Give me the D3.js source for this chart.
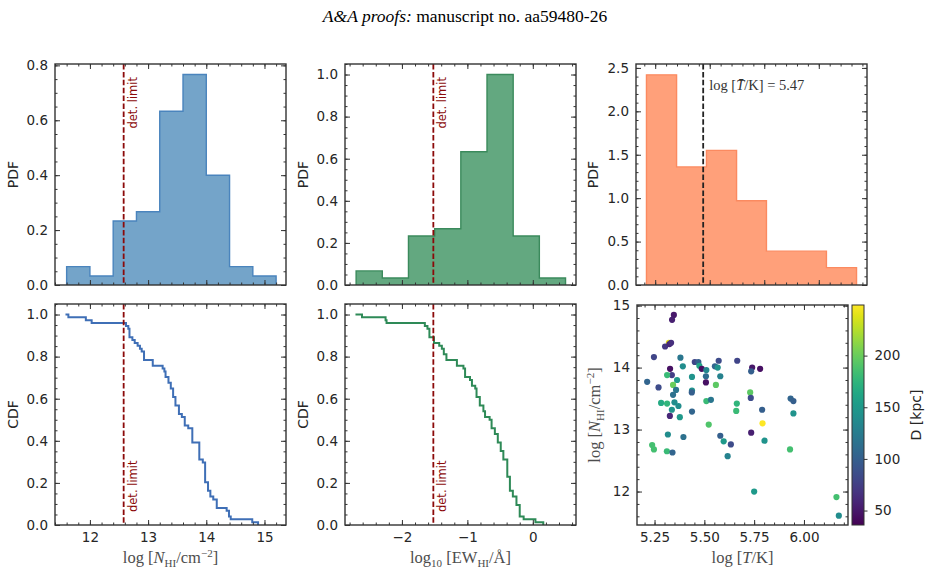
<!DOCTYPE html>
<html>
<head>
<meta charset="utf-8">
<script src="https://cdn.jsdelivr.net/npm/d3@7/dist/d3.min.js"></script>
<style>
body { margin: 0; background: #fff; }
svg { display: block; }
</style>
</head>
<body>
<svg width="929" height="577"></svg>
<script>
// ---- values ----

// histogram of log N_HI (density), bin edges
var binsN = [11.6, 12.0, 12.4, 12.8, 13.2, 13.6, 14.0, 14.4, 14.8, 15.2];
var pdfN = [0.067, 0.033, 0.233, 0.267, 0.633, 0.767, 0.400, 0.067, 0.033];

// histogram of log10 EW_HI
var binsEW = [-2.7, -2.3, -1.9, -1.5, -1.1, -0.7, -0.3, 0.1, 0.5];
var pdfEW = [0.067, 0.033, 0.233, 0.267, 0.633, 1.000, 0.233, 0.033];

// histogram of log T
var binsT = [5.210, 5.348, 5.485, 5.623, 5.760, 5.898, 6.035, 6.173];
var pdfT = [2.42, 1.36, 1.55, 0.97, 0.39, 0.39, 0.20];

// sorted samples behind the CDF step lines
var cdfN = [11.58, 11.63, 11.93, 12.03, 12.62, 12.66, 12.68, 12.68, 12.68, 12.73,
    12.77, 12.82, 12.86, 12.89, 12.93, 12.93, 12.93, 13.08, 13.08, 13.25,
    13.28, 13.30, 13.30, 13.35, 13.35, 13.39, 13.39, 13.43, 13.43, 13.43,
    13.47, 13.47, 13.47, 13.53, 13.53, 13.53, 13.58, 13.63, 13.63, 13.63,
    13.69, 13.76, 13.76, 13.76, 13.76, 13.76, 13.88, 13.88, 13.88, 13.88,
    13.88, 13.88, 13.94, 13.98, 13.98, 13.98, 13.98, 13.98, 13.98, 13.98,
    14.03, 14.03, 14.03, 14.07, 14.07, 14.12, 14.18, 14.18, 14.18, 14.35,
    14.39, 14.39, 14.42, 14.79, 14.89];
var cdfEW = [-2.71, -2.61, -2.25, -2.235, -1.65, -1.61, -1.58, -1.58, -1.58, -1.51,
    -1.51, -1.43, -1.39, -1.36, -1.36, -1.32, -1.32, -1.16, -1.16, -1.06,
    -1.035, -1.035, -1.035, -0.96, -0.93, -0.93, -0.88, -0.86, -0.86, -0.86,
    -0.81, -0.81, -0.81, -0.755, -0.755, -0.73, -0.73, -0.66, -0.63, -0.63,
    -0.63, -0.58, -0.58, -0.535, -0.535, -0.535, -0.49, -0.49, -0.49, -0.45,
    -0.45, -0.45, -0.39, -0.39, -0.39, -0.39, -0.39, -0.39, -0.35, -0.35,
    -0.35, -0.35, -0.35, -0.305, -0.305, -0.25, -0.25, -0.25, -0.20, -0.20,
    -0.20, -0.20, -0.14, 0.04, 0.16];

// detection limits and mean temperature
var detN = 12.58;
var detEW = -1.52;
var meanT = 5.47;

// scatter: log T, log N_HI, distance D [kpc]
var scT = [5.322, 5.347, 5.338, 5.303, 5.325, 5.333, 5.247, 5.380, 5.392, 5.328,
    5.337, 5.313, 5.213, 5.270, 5.363, 5.343, 5.358, 5.343, 5.283, 5.313,
    5.350, 5.370, 5.337, 5.327, 5.377, 5.317, 5.395, 5.238, 5.247, 5.312,
    5.340, 5.438, 5.438, 5.437, 5.452, 5.470, 5.475, 5.487, 5.438, 5.510,
    5.508, 5.508, 5.553, 5.567, 5.572, 5.580, 5.558, 5.510, 5.533, 5.522,
    5.580, 5.597, 5.633, 5.617, 5.665, 5.663, 5.660, 5.740, 5.780, 5.735,
    5.730, 5.733, 5.735, 5.790, 5.792, 5.802, 5.750, 5.930, 5.933, 5.947,
    5.947, 6.163, 6.175];
var scN = [14.40, 14.85, 14.77, 14.34, 14.38, 14.40, 14.17, 14.16, 14.02, 13.98,
    13.88, 13.88, 13.77, 13.68, 13.80, 13.72, 13.64, 13.56, 13.43, 13.42,
    13.44, 13.38, 13.32, 13.22, 13.20, 12.92, 12.88, 12.75, 12.68, 12.65,
    12.63, 13.85, 13.63, 13.60, 14.09, 14.09, 14.03, 13.98, 13.29, 13.96,
    13.86, 13.76, 14.02, 14.00, 14.11, 13.86, 13.72, 13.46, 13.48, 13.08,
    12.90, 12.81, 12.76, 12.57, 14.11, 13.42, 13.30, 14.00, 13.98, 13.94,
    13.60, 13.51, 12.95, 13.32, 13.10, 12.82, 12.00, 12.68, 13.50, 13.46,
    13.26, 11.91, 11.61];
var scD = [240, 50, 55, 70, 60, 65, 80, 120, 140, 45,
    75, 180, 105, 85, 150, 200, 120, 115, 165, 175,
    140, 140, 145, 60, 150, 140, 115, 185, 185, 180,
    105, 145, 145, 100, 80, 100, 160, 45, 105, 135,
    110, 45, 105, 145, 85, 130, 195, 180, 120, 190,
    100, 150, 85, 130, 80, 175, 180, 50, 45, 100,
    195, 85, 55, 100, 249, 145, 150, 185, 105, 100,
    145, 185, 140];

// colour range of the colour bar
var dRange = [36, 249];

// ---- layout ----
var svg = d3.select('svg');
var sans = 'DejaVu Sans, sans-serif';
var serif = 'Liberation Serif, Times New Roman, serif';
var inkColor = '#262626';
var labelColor = '#4d4d4d';
var detColor = '#8b0a0a';

// boxes as [left, top, right, bottom]
var boxPdfN = [55, 64, 286, 285];
var boxPdfEW = [345, 64, 576, 285];
var boxPdfT = [636, 64, 867, 285];
var boxCdfN = [55, 304, 286, 525];
var boxCdfEW = [345, 304, 576, 525];
var boxScat = [637, 305, 848, 525];
var boxBar = [852, 305, 864, 525];

// scales
var xN = d3.scaleLinear().domain([11.4, 15.37]).range([boxPdfN[0], boxPdfN[2]]);
var xEW = d3.scaleLinear().domain([-2.87, 0.66]).range([boxPdfEW[0], boxPdfEW[2]]);
var xT = d3.scaleLinear().domain([5.162, 6.221]).range([boxPdfT[0], boxPdfT[2]]);
var xTs = d3.scaleLinear().domain([5.162, 6.221]).range([boxScat[0], boxScat[2]]);
var yPdfN = d3.scaleLinear().domain([0, 0.805]).range([boxPdfN[3], boxPdfN[1]]);
var yPdfEW = d3.scaleLinear().domain([0, 1.05]).range([boxPdfEW[3], boxPdfEW[1]]);
var yPdfT = d3.scaleLinear().domain([0, 2.545]).range([boxPdfT[3], boxPdfT[1]]);
var yCdf = d3.scaleLinear().domain([0, 1.05]).range([boxCdfN[3], boxCdfN[1]]);
var ySc = d3.scaleLinear().domain([11.46, 15.01]).range([boxScat[3], boxScat[1]]);
var yBar = d3.scaleLinear().domain(dRange).range([boxBar[3], boxBar[1]]);
var color = d3.scaleSequential(d3.interpolateViridis).domain(dRange);

function ticksFrom(a, b, step) {
    return d3.range(Math.round(a / step), Math.round(b / step) + 1).map(function(k) { return +(k * step).toFixed(4); });
}

// frame with inward ticks on all four sides
function drawAxes(box, x, y, o) {
    var g = svg.append('g');
    var sides = [
        [d3.axisBottom, x, 'translate(0,' + box[3] + ')', o.xMajor, o.xMinor, o.xFormat],
        [d3.axisTop, x, 'translate(0,' + box[1] + ')', o.xMajor, o.xMinor, null],
        [d3.axisLeft, y, 'translate(' + box[0] + ',0)', o.yMajor, o.yMinor, o.yFormat],
        [d3.axisRight, y, 'translate(' + box[2] + ',0)', o.yMajor, o.yMinor, null]
    ];
    sides.forEach(function(s) {
        var minor = g.append('g').attr('transform', s[2])
            .call(s[0](s[1]).tickValues(s[4]).tickSizeInner(-2.5).tickSizeOuter(0).tickFormat(''));
        minor.select('.domain').remove();
        var major = g.append('g').attr('transform', s[2])
            .call(s[0](s[1]).tickValues(s[3]).tickSizeInner(-5).tickSizeOuter(0).tickPadding(7)
                .tickFormat(s[5] ? s[5] : ''));
        major.select('.domain').remove();
        major.selectAll('text')
            .attr('font-family', sans)
            .attr('font-size', 13.5)
            .attr('fill', inkColor);
    });
    g.selectAll('.tick line').attr('stroke', '#333').attr('stroke-width', 1);
    g.append('rect')
        .attr('x', box[0])
        .attr('y', box[1])
        .attr('width', box[2] - box[0])
        .attr('height', box[3] - box[1])
        .attr('fill', 'none')
        .attr('stroke', '#333')
        .attr('stroke-width', 1.4);
    return g;
}

// stepfilled histogram
function drawHist(edges, dens, x, y, fill, edge) {
    var pts = [[edges[0], 0]];
    dens.forEach(function(h, i) {
        pts.push([edges[i], h]);
        pts.push([edges[i + 1], h]);
    });
    pts.push([edges[edges.length - 1], 0]);
    svg.append('path')
        .datum(pts)
        .attr('d', d3.line().x(function(d) { return x(d[0]); }).y(function(d) { return y(d[1]); }))
        .attr('fill', fill)
        .attr('stroke', edge)
        .attr('stroke-width', 1.4);
}

// decreasing CDF drawn as a post step line
function drawCdf(vals, x, col) {
    var n = vals.length;
    var pts = vals.map(function(v, i) { return [v, 1 - i / (n - 1)]; });
    svg.append('path')
        .datum(pts)
        .attr('d', d3.line().curve(d3.curveStepAfter).x(function(d) { return x(d[0]); }).y(function(d) { return yCdf(d[1]); }))
        .attr('fill', 'none')
        .attr('stroke', col)
        .attr('stroke-width', 2);
}

function vLine(xv, box, col) {
    svg.append('line')
        .attr('x1', xv).attr('x2', xv)
        .attr('y1', box[1]).attr('y2', box[3])
        .attr('stroke', col)
        .attr('stroke-width', 1.8)
        .attr('stroke-dasharray', '5.5,2.4');
}

function detText(xv, yv, anchor) {
    svg.append('text')
        .attr('transform', 'translate(' + (xv + 13) + ',' + yv + ') rotate(-90)')
        .attr('text-anchor', anchor)
        .attr('font-family', sans)
        .attr('font-size', 11.5)
        .attr('fill', detColor)
        .text('det. limit');
}

function yTitle(txt, xv, yv) {
    svg.append('text')
        .attr('transform', 'translate(' + xv + ',' + yv + ') rotate(-90)')
        .attr('text-anchor', 'middle')
        .attr('font-family', sans)
        .attr('font-size', 14)
        .attr('fill', inkColor)
        .text(txt);
}

// "log [N_HI / cm^-2]" written with tspans
function nhiLabel(t) {
    t.append('tspan').text('log [');
    t.append('tspan').attr('font-style', 'italic').text('N');
    t.append('tspan').attr('font-size', 11).attr('dy', 3.5).text('HI');
    t.append('tspan').attr('dy', -3.5).text('/cm');
    t.append('tspan').attr('font-size', 11).attr('dy', -6.5).text('\u22122');
    t.append('tspan').attr('dy', 6.5).text(']');
}

// ---- title ----
var title = svg.append('text')
    .attr('x', 465).attr('y', 22)
    .attr('text-anchor', 'middle')
    .attr('font-family', serif)
    .attr('font-size', 17.5)
    .attr('fill', '#000');
title.append('tspan').attr('font-style', 'italic').text('A&A proofs:');
title.append('tspan').text(' manuscript no. aa59480-26');

// ---- top row: PDFs ----
drawHist(binsN, pdfN, xN, yPdfN, '#74a4c9', '#4a84bd');
vLine(xN(detN), boxPdfN, detColor);
detText(xN(detN), 77, 'end');
drawAxes(boxPdfN, xN, yPdfN, {
    xMajor: [12, 13, 14, 15], xMinor: ticksFrom(11.4, 15.2, 0.2),
    yMajor: [0, 0.2, 0.4, 0.6, 0.8], yMinor: ticksFrom(0, 0.8, 0.05),
    xFormat: null, yFormat: d3.format('.1f')
});
yTitle('PDF', 18, 174.5);

drawHist(binsEW, pdfEW, xEW, yPdfEW, '#63a880', '#3b8a5c');
vLine(xEW(detEW), boxPdfEW, detColor);
detText(xEW(detEW), 77, 'end');
drawAxes(boxPdfEW, xEW, yPdfEW, {
    xMajor: [-2, -1, 0], xMinor: ticksFrom(-2.8, 0.6, 0.2),
    yMajor: [0, 0.2, 0.4, 0.6, 0.8, 1.0], yMinor: ticksFrom(0, 1.05, 0.05),
    xFormat: null, yFormat: d3.format('.1f')
});
yTitle('PDF', 308, 174.5);

drawHist(binsT, pdfT, xT, yPdfT, '#ffa07a', '#fb8a60');
vLine(xT(meanT), boxPdfT, '#222');
var mt = svg.append('text')
    .attr('x', xT(meanT) + 6).attr('y', 90)
    .attr('font-family', serif)
    .attr('font-size', 14.5)
    .attr('fill', '#333');
mt.append('tspan').text('log [');
mt.append('tspan').attr('font-style', 'italic').text('T\u0304');
mt.append('tspan').text('/K] = 5.47');
drawAxes(boxPdfT, xT, yPdfT, {
    xMajor: [5.25, 5.5, 5.75, 6.0], xMinor: ticksFrom(5.2, 6.2, 0.05),
    yMajor: [0, 0.5, 1.0, 1.5, 2.0, 2.5], yMinor: ticksFrom(0, 2.5, 0.1),
    xFormat: null, yFormat: d3.format('.1f')
});
yTitle('PDF', 598, 174.5);

// ---- bottom row: CDFs ----
drawCdf(cdfN, xN, '#3f6fb6');
vLine(xN(detN), boxCdfN, detColor);
detText(xN(detN), 512, 'start');
drawAxes(boxCdfN, xN, yCdf, {
    xMajor: [12, 13, 14, 15], xMinor: ticksFrom(11.4, 15.2, 0.2),
    yMajor: [0, 0.2, 0.4, 0.6, 0.8, 1.0], yMinor: ticksFrom(0, 1.05, 0.05),
    xFormat: d3.format('d'), yFormat: d3.format('.1f')
});
yTitle('CDF', 18, 414.5);
nhiLabel(svg.append('text')
    .attr('x', (boxCdfN[0] + boxCdfN[2]) / 2).attr('y', 563)
    .attr('text-anchor', 'middle')
    .attr('font-family', serif)
    .attr('font-size', 16.5)
    .attr('fill', labelColor));

drawCdf(cdfEW, xEW, '#2e8a57');
vLine(xEW(detEW), boxCdfEW, detColor);
detText(xEW(detEW), 512, 'start');
drawAxes(boxCdfEW, xEW, yCdf, {
    xMajor: [-2, -1, 0], xMinor: ticksFrom(-2.8, 0.6, 0.2),
    yMajor: [0, 0.2, 0.4, 0.6, 0.8, 1.0], yMinor: ticksFrom(0, 1.05, 0.05),
    xFormat: d3.format('d'), yFormat: d3.format('.1f')
});
yTitle('CDF', 308, 414.5);
var ewl = svg.append('text')
    .attr('x', (boxCdfEW[0] + boxCdfEW[2]) / 2).attr('y', 563)
    .attr('text-anchor', 'middle')
    .attr('font-family', serif)
    .attr('font-size', 16.5)
    .attr('fill', labelColor);
ewl.append('tspan').text('log');
ewl.append('tspan').attr('font-size', 11).attr('dy', 3.5).text('10');
ewl.append('tspan').attr('dy', -3.5).text(' [EW');
ewl.append('tspan').attr('font-size', 11).attr('dy', 3.5).text('HI');
ewl.append('tspan').attr('dy', -3.5).text('/\u00c5]');

// ---- scatter with colour bar ----
var pts = scT.map(function(t, i) { return { t: t, n: scN[i], d: scD[i] }; });
svg.append('g').selectAll('circle')
    .data(pts)
    .enter().append('circle')
    .attr('cx', function(d) { return xTs(d.t); })
    .attr('cy', function(d) { return ySc(d.n); })
    .attr('r', 3.1)
    .attr('fill', function(d) { return color(d.d); });
drawAxes(boxScat, xTs, ySc, {
    xMajor: [5.25, 5.5, 5.75, 6.0], xMinor: ticksFrom(5.2, 6.2, 0.05),
    yMajor: [12, 13, 14, 15], yMinor: ticksFrom(11.6, 15.0, 0.2),
    xFormat: d3.format('.2f'), yFormat: d3.format('d')
});
var tl = svg.append('text')
    .attr('x', (boxScat[0] + boxScat[2]) / 2).attr('y', 563)
    .attr('text-anchor', 'middle')
    .attr('font-family', serif)
    .attr('font-size', 16.5)
    .attr('fill', labelColor);
tl.append('tspan').text('log [');
tl.append('tspan').attr('font-style', 'italic').text('T');
tl.append('tspan').text('/K]');
nhiLabel(svg.append('text')
    .attr('transform', 'translate(600,' + (boxScat[1] + boxScat[3]) / 2 + ') rotate(-90)')
    .attr('text-anchor', 'middle')
    .attr('font-family', serif)
    .attr('font-size', 16.5)
    .attr('fill', labelColor));

// colour bar
var grad = svg.append('defs').append('linearGradient')
    .attr('id', 'viridis')
    .attr('x1', 0).attr('x2', 0).attr('y1', 1).attr('y2', 0);
d3.range(0, 1.0001, 0.05).forEach(function(f) {
    grad.append('stop').attr('offset', f).attr('stop-color', d3.interpolateViridis(f));
});
svg.append('rect')
    .attr('x', boxBar[0]).attr('y', boxBar[1])
    .attr('width', boxBar[2] - boxBar[0]).attr('height', boxBar[3] - boxBar[1])
    .attr('fill', 'url(#viridis)')
    .attr('stroke', '#333')
    .attr('stroke-width', 1);
var barAxis = svg.append('g')
    .attr('transform', 'translate(' + boxBar[2] + ',0)')
    .call(d3.axisRight(yBar).tickValues([50, 100, 150, 200]).tickSizeInner(3.5).tickSizeOuter(0).tickPadding(7));
barAxis.select('.domain').remove();
barAxis.selectAll('line').attr('stroke', '#333');
barAxis.selectAll('text')
    .attr('font-family', sans)
    .attr('font-size', 13.5)
    .attr('fill', inkColor);
yTitle('D [kpc]', 921, (boxBar[1] + boxBar[3]) / 2);
</script>
</body>
</html>
